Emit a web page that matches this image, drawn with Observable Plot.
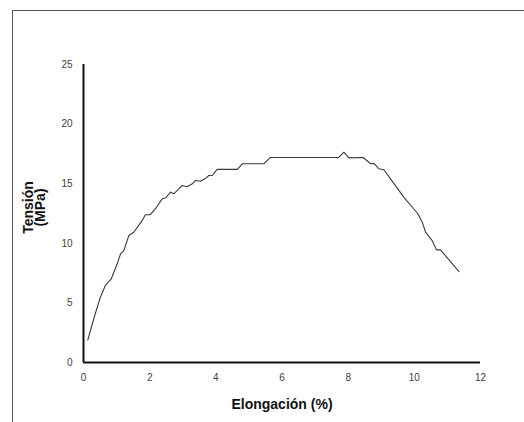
<!DOCTYPE html>
<html>
<head>
<meta charset="utf-8">
<script src="https://cdn.jsdelivr.net/npm/d3@7"></script>
<script src="https://cdn.jsdelivr.net/npm/@observablehq/plot@0.6"></script>
<style>
  html, body { margin: 0; padding: 0; background: #fff; overflow: hidden; }
  #wrap { position: relative; width: 524px; height: 422px; }
  #frame { position: absolute; left: 12px; top: 10px; width: 530px; height: 430px;
           border-left: 1.5px solid #555; border-top: 1.5px solid #555; box-sizing: border-box; }
  #chart { position: absolute; left: 0; top: 0; }
</style>
</head>
<body>
<div id="wrap"><div id="frame"></div><div id="chart"></div></div>
<script>
const elongacion = [0.13, 0.31, 0.51, 0.66, 0.84, 1.02, 1.12, 1.22, 1.37, 1.52, 1.77, 1.87, 2.02, 2.2, 2.38, 2.48, 2.63, 2.73, 2.88, 2.98, 3.13, 3.29, 3.39, 3.54, 3.69, 3.79, 3.89, 4.04, 4.65, 4.8, 5.45, 5.65, 7.72, 7.87, 8.02, 8.45, 8.68, 8.78, 8.93, 9.08, 9.28, 9.68, 10.1, 10.24, 10.34, 10.54, 10.67, 10.79, 11.35];
const tension = [1.9, 3.67, 5.48, 6.46, 7.02, 8.28, 9.12, 9.4, 10.65, 10.93, 11.9, 12.4, 12.4, 13.0, 13.73, 13.8, 14.29, 14.15, 14.57, 14.85, 14.75, 14.99, 15.27, 15.2, 15.45, 15.69, 15.69, 16.2, 16.2, 16.67, 16.67, 17.2, 17.2, 17.64, 17.17, 17.2, 16.67, 16.7, 16.25, 16.17, 15.4, 13.87, 12.5, 11.77, 10.93, 10.23, 9.45, 9.45, 7.63];
const xTicks = [0, 2, 4, 6, 8, 10, 12];
const yTicks = [0, 5, 10, 15, 20, 25];
const xLabel = "Elongación (%)";
const yLabel = "Tensión\n(MPa)";

const data = elongacion.map((x, i) => ({x, y: tension[i]}));

const chart = Plot.plot({
  width: 524,
  height: 422,
  marginLeft: 83,
  marginRight: 44,
  marginTop: 64,
  marginBottom: 60,
  style: {fontFamily: "Liberation Sans, Arial, sans-serif", background: "transparent"},
  x: {domain: [0, 12], ticks: xTicks, tickSize: 0, tickPadding: 11, label: null},
  y: {domain: [0, 25], ticks: yTicks, tickSize: 0, tickPadding: 11, label: null},
  marks: [
    Plot.axisX({ticks: xTicks, tickSize: 0, tickPadding: 11, fontSize: 10, color: "#404040", label: null}),
    Plot.axisY({ticks: yTicks, tickSize: 0, tickPadding: 11, fontSize: 10, color: "#404040", label: null}),
    Plot.ruleY([0], {stroke: "#111", strokeWidth: 2}),
    Plot.ruleX([0], {stroke: "#111", strokeWidth: 2}),
    Plot.line(data, {x: "x", y: "y", stroke: "#3a3a3a", strokeWidth: 1.1}),
    Plot.text([xLabel], {frameAnchor: "bottom", dy: 46, text: d => d, fontSize: 14, fontWeight: "bold", fill: "#111"}),
    Plot.text([yLabel], {frameAnchor: "left", textAnchor: "middle", dx: -48, dy: -6, rotate: -90, lineHeight: 0.82, text: d => d, fontSize: 14, fontWeight: "bold", fill: "#111"})
  ]
});
document.getElementById("chart").appendChild(chart);
</script>
</body>
</html>
